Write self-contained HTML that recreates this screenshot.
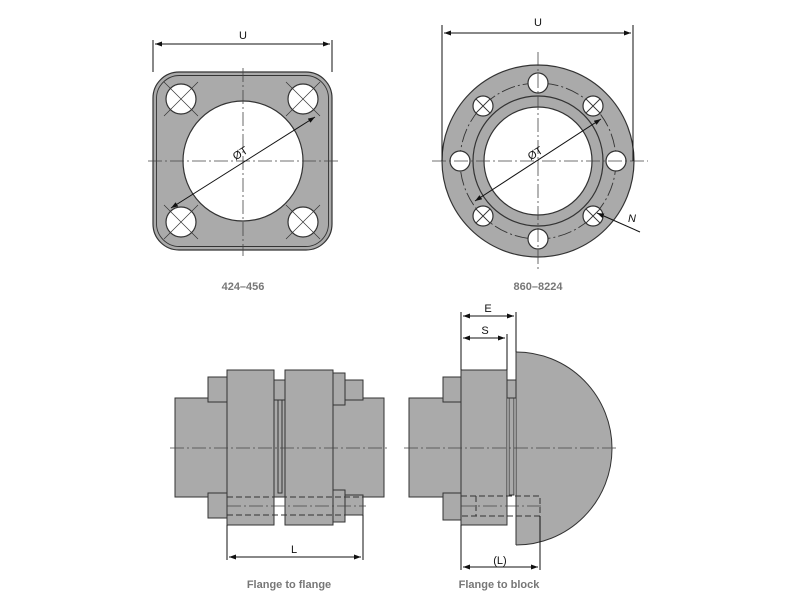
<!DOCTYPE html>
<html><head><meta charset="utf-8"><style>html,body{margin:0;padding:0;background:#fff}svg{display:block}</style></head><body>
<svg width="812" height="609" viewBox="0 0 812 609" xmlns="http://www.w3.org/2000/svg" font-family="Liberation Sans, sans-serif">
<defs>
<marker id="a" viewBox="0 0 10 10" refX="10" refY="5" markerWidth="7" markerHeight="7" orient="auto-start-reverse"><path d="M0,1.5 L10,5 L0,8.5z" fill="#111"/></marker>
<clipPath id="bc"><rect x="516" y="340" width="120" height="220"/></clipPath>
</defs>
<g stroke="#333" stroke-width="1.2" fill="#aaa">
<rect x="153" y="72" width="179" height="178" rx="26"/>
<rect x="156.5" y="75.5" width="172" height="171" rx="23" fill="none" stroke-width="0.9"/>
<circle cx="243" cy="161" r="60" fill="#fff"/>
<g fill="#fff"><circle cx="181" cy="99" r="15"/><circle cx="303" cy="99" r="15"/><circle cx="181" cy="222" r="15"/><circle cx="303" cy="222" r="15"/></g>
<g stroke-width="0.7" fill="none">
<path d="M164,82 L198,116 M198,82 L164,116 M286,82 L320,116 M320,82 L286,116 M164,205 L198,239 M198,205 L164,239 M286,205 L320,239 M320,205 L286,239"/>
</g>
<path d="M148,161 H338 M243,68 V256" stroke="#444" stroke-width="0.8" stroke-dasharray="14,3,2,3" fill="none"/>
<circle cx="538" cy="161" r="96"/>
<circle cx="538" cy="161" r="65" fill="none"/>
<circle cx="538" cy="161" r="54" fill="#fff"/>
<circle cx="538" cy="161" r="78" fill="none" stroke-width="0.9" stroke-dasharray="14,3,2,3"/>
<g fill="#fff">
<circle cx="538" cy="83" r="10"/><circle cx="538" cy="239" r="10"/><circle cx="460" cy="161" r="10"/><circle cx="616" cy="161" r="10"/>
<circle cx="483" cy="106" r="10"/><circle cx="593" cy="106" r="10"/><circle cx="483" cy="216" r="10"/><circle cx="593" cy="216" r="10"/>
</g>
<path d="M432,161 H648 M538,52 V272" stroke="#444" stroke-width="0.8" stroke-dasharray="14,3,2,3" fill="none"/>
<path d="M476,99 L490,113 M490,99 L476,113 M586,99 L600,113 M600,99 L586,113 M476,209 L490,223 M490,209 L476,223 M586,209 L600,223 M600,209 L586,223" fill="none" stroke-width="0.9"/>
</g>
<g stroke="#111" stroke-width="1" fill="none">
<path d="M153,40 V72 M332,40 V72 M442,25 V161 M633,25 V161"/>
<path d="M155,44 H330" marker-start="url(#a)" marker-end="url(#a)"/>
<path d="M444,33 H631" marker-start="url(#a)" marker-end="url(#a)"/>
<path d="M171,208 L315,117" marker-start="url(#a)" marker-end="url(#a)"/>
<path d="M475,201 L601,119" marker-start="url(#a)" marker-end="url(#a)"/>
<path d="M640,232 L597,213" marker-end="url(#a)"/>
</g>
<g font-size="11" fill="#111" text-anchor="middle">
<text x="243" y="39">U</text><text x="538" y="26">U</text>
<text x="240" y="157" transform="rotate(-32 240 153)">ØT</text>
<text x="535" y="157" transform="rotate(-32 535 153)">ØT</text>
<text x="632" y="222" font-style="italic">N</text>
</g>
<g font-size="11" font-weight="bold" fill="#777" text-anchor="middle">
<text x="243" y="290">424–456</text><text x="538" y="290">860–8224</text>
<text x="289" y="588">Flange to flange</text><text x="499" y="588">Flange to block</text>
</g>
<g stroke="#333" stroke-width="1" fill="#aaa">
<rect x="175" y="398" width="209" height="99"/>
<rect x="208" y="377" width="19" height="25"/><rect x="208" y="493" width="19" height="25"/>
<rect x="274" y="380" width="11" height="20"/>
<rect x="278" y="400" width="4" height="93"/>
<rect x="333" y="373" width="12" height="32"/><rect x="345" y="380" width="18" height="20"/>
<rect x="333" y="490" width="12" height="32"/><rect x="345" y="495" width="18" height="20"/>
<rect x="227" y="370" width="47" height="155"/>
<rect x="285" y="370" width="48" height="155"/>
<rect x="409" y="398" width="52" height="99"/>
<rect x="443" y="377" width="18" height="25"/><rect x="443" y="493" width="18" height="27"/>
<rect x="507" y="380" width="10" height="18"/>
<rect x="509" y="398" width="5" height="97"/>
<rect x="461" y="370" width="46" height="155"/>
<ellipse cx="516" cy="448.5" rx="96" ry="96.5" clip-path="url(#bc)"/>
<path d="M516,352 V545"/>
</g>
<g stroke="#333" stroke-width="1" fill="none" stroke-dasharray="6,3">
<path d="M227,497 H363 M227,515 H363 M461,496 H540 V516 H461 M476,496 V516"/>
</g>
<g stroke="#444" stroke-width="0.8" fill="none" stroke-dasharray="14,3,2,3">
<path d="M170,448 H390 M404,448 H618 M227,506 H366 M461,506 H544"/>
</g>
<g stroke="#111" stroke-width="1" fill="none">
<path d="M227,525 V560 M363,515 V560 M461,312 V370 M516,312 V352 M507,334 V370 M461,525 V570 M540,516 V570"/>
<path d="M229,557 H361" marker-start="url(#a)" marker-end="url(#a)"/>
<path d="M463,316 H514" marker-start="url(#a)" marker-end="url(#a)"/>
<path d="M463,338 H505" marker-start="url(#a)" marker-end="url(#a)"/>
<path d="M463,567 H538" marker-start="url(#a)" marker-end="url(#a)"/>
</g>
<g font-size="11" fill="#111" text-anchor="middle">
<text x="294" y="553">L</text><text x="488" y="312">E</text><text x="485" y="334">S</text><text x="500" y="564">(L)</text>
</g>
</svg>
</body></html>
